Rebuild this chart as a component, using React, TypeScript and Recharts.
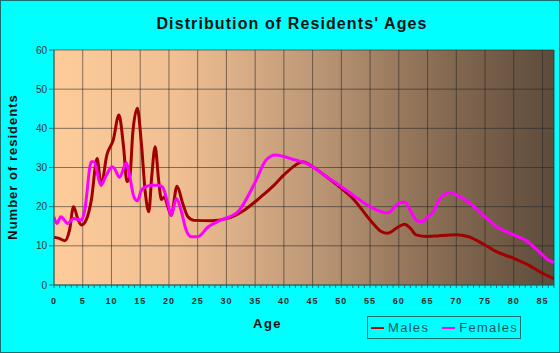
import { CartesianGrid, Line, LineChart, ReferenceLine, XAxis, YAxis } from "recharts";

const maleAges = [
  0, 0.9, 1.9, 2.7, 3.4, 4.2, 4.8, 5.6, 6.5, 7.5, 8.2, 9.2, 10.3, 11.3, 12.1, 12.7, 13.2, 13.7, 14.5, 15.2,
  15.9, 16.5, 17, 17.6, 18.2, 18.7, 19.2, 19.8, 20.4, 21.4, 22.4, 23.3, 24.4, 27.3, 30.2, 33.1, 36, 38.3, 40,
  42, 43.3, 45, 47, 50, 52, 55, 57, 58, 60, 61, 62, 63, 65, 67, 70, 72, 75, 77, 80, 82, 85, 87,
];
const maleCounts = [
  12.2, 11.9, 11.3, 14, 20, 16.6, 15.3, 16.6, 21.7, 32.3, 25.5, 33.2, 37, 43.4, 35.3, 26.4, 27.6, 38.7, 45.1,
  36.2, 23.4, 18.7, 27.6, 35.3, 26.8, 21.8, 22.5, 20, 17.8, 25.2, 20.8, 17.4, 16.5, 16.4, 17, 19.1, 22.5, 25.5,
  28.1, 30.6, 31.5, 30.2, 28.1, 24.7, 22.1, 16.6, 13.6, 13.2, 14.9, 15.5, 14.5, 12.8, 12.4, 12.6, 12.8, 12.4,
  10.2, 8.5, 6.8, 5.5, 3, 1.6,
];

const femaleAges = [
  0, 0.5, 1.2, 2.4, 3.4, 4.8, 5.3, 6.5, 6.9, 8.2, 9.1, 10.1, 10.5, 11.4, 12.6, 13.2, 13.9, 14.5, 15.2, 16, 17,
  18.1, 18.9, 19.8, 20.4, 21.3, 22.1, 23, 23.9, 25, 26.8, 29.1, 32, 34.9, 36.9, 38.5, 40, 42, 43.5, 45, 47, 50,
  52, 55, 57, 58, 60, 61, 62, 63, 64, 65, 66, 67, 68, 69, 70, 72, 75, 77, 80, 82, 85, 86, 87,
];
const femaleCounts = [
  17.4, 15.7, 17.4, 15.7, 17, 16.6, 18.7, 31.5, 31.5, 25.5, 28, 30.2, 29.8, 27.5, 31.2, 27.6, 22.5, 21.5, 24.2,
  25.1, 25.5, 25.5, 25, 20.8, 17.8, 22.1, 19.1, 14, 12.3, 12.3, 14.8, 16.6, 18.7, 25.9, 31.9, 33.2, 32.8, 31.9,
  31.3, 30.2, 28.1, 25.1, 23, 20, 18.7, 18.4, 20.9, 21.2, 19.1, 16.6, 16.1, 17.4, 18.7, 21.7, 23.2, 23.6, 23,
  21.3, 17.4, 14.9, 12.8, 11.5, 7.7, 6.4, 5.8,
];

const xTicks = Array.from({ length: 88 }, (_, i) => i);
const xGrid = [0, 5, 10, 15, 20, 25, 30, 35, 40, 45, 50, 55, 60, 65, 70, 75, 80, 85];
const yTicks = [0, 10, 20, 30, 40, 50, 60];

const maleData = maleAges.map((age, i) => ({ age, value: maleCounts[i] }));
const femaleData = femaleAges.map((age, i) => ({ age, value: femaleCounts[i] }));

const FONT = "'Liberation Sans', Arial, sans-serif";
const TEAL = "#1c6f6f";

function XTick({ x, y, payload }: any) {
  if (payload.value % 5 !== 0) return <g />;
  return (
    <text x={x} y={y + 14} textAnchor="middle" fontSize={9} fontWeight="bold" letterSpacing={1} fill="#2a2a2a" fontFamily={FONT}>
      {payload.value}
    </text>
  );
}

export default function App() {
  return (
    <div style={{ position: "relative", width: 560, height: 353, background: "#00ffff", fontFamily: FONT, overflow: "hidden" }}>
      <style>{"body{margin:0}"}</style>
      <LineChart width={560} height={353} margin={{ top: 50, right: 6, bottom: 0, left: 0 }}>
        <defs>
          <linearGradient id="plotBg" x1="0" y1="0" x2="1" y2="0">
            <stop offset="0" stopColor="#fecc9a" />
            <stop offset="0.25" stopColor="#f0bf92" />
            <stop offset="0.5" stopColor="#c19b79" />
            <stop offset="0.75" stopColor="#8c6f56" />
            <stop offset="1" stopColor="#5d4b3b" />
          </linearGradient>
        </defs>
        <CartesianGrid fill="url(#plotBg)" fillOpacity={1} stroke="#222" strokeOpacity={0.55} verticalValues={xGrid} horizontalValues={yTicks} />
        <XAxis
          dataKey="age"
          type="number"
          domain={[0, 87]}
          ticks={xTicks}
          interval={0}
          height={68}
          tickSize={3}
          tickMargin={2}
          axisLine={{ stroke: TEAL }}
          tickLine={{ stroke: TEAL }}
          tick={<XTick />}
          allowDataOverflow
        />
        <YAxis
          type="number"
          domain={[0, 60]}
          ticks={yTicks}
          width={54}
          tickSize={5}
          tickMargin={2}
          axisLine={{ stroke: TEAL }}
          tickLine={{ stroke: TEAL }}
          tick={{ fontSize: 10, fill: "#333", fontFamily: FONT }}
        />
        <ReferenceLine x={87} stroke="#333" strokeOpacity={0.8} />
        <Line data={maleData} dataKey="value" type="monotone" stroke="#a00000" strokeWidth={3} dot={false} isAnimationActive={false} />
        <Line data={femaleData} dataKey="value" type="monotone" stroke="#ff00ff" strokeWidth={3} dot={false} isAnimationActive={false} />
      </LineChart>

      <div style={{ position: "absolute", left: 0, width: 584, top: 15, textAlign: "center", fontSize: 16, fontWeight: "bold", letterSpacing: 1.1, color: "#111" }}>
        Distribution of Residents' Ages
      </div>
      <div style={{ position: "absolute", left: 253, top: 316, fontSize: 13, fontWeight: "bold", letterSpacing: 1.5, color: "#111" }}>Age</div>
      <div
        style={{
          position: "absolute",
          left: 12,
          top: 167,
          transform: "translate(-50%, -50%) rotate(-90deg)",
          whiteSpace: "nowrap",
          fontSize: 13,
          fontWeight: "bold",
          letterSpacing: 1,
          color: "#111",
        }}
      >
        Number of residents
      </div>
      <div
        style={{
          position: "absolute",
          left: 367,
          top: 316,
          width: 154,
          height: 23,
          boxSizing: "border-box",
          border: `1px solid ${TEAL}`,
          display: "flex",
          alignItems: "center",
          fontSize: 13,
          letterSpacing: 1.3,
          color: "#1a5c5c",
        }}
      >
        <span style={{ display: "inline-block", width: 13, height: 2, background: "#c00000", marginLeft: 3, marginRight: 4 }} />
        <span>Males</span>
        <span style={{ display: "inline-block", width: 13, height: 2, background: "#ff00ff", marginLeft: 13, marginRight: 4 }} />
        <span>Females</span>
      </div>
      <div style={{ position: "absolute", inset: 0, border: `1px solid ${TEAL}`, pointerEvents: "none" }} />
    </div>
  );
}
